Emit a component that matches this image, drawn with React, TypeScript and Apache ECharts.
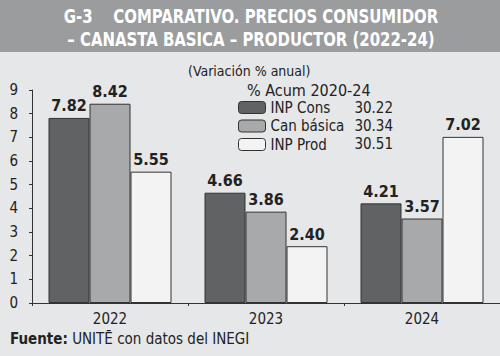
import React, { useEffect, useRef } from "react";
import * as echarts from "echarts";

const categories = ["2022", "2023", "2024"];
const seriesNames = ["INP Cons", "Can básica", "INP Prod"];
const inpCons = [7.82, 4.66, 4.21];
const canBasica = [8.42, 3.86, 3.57];
const inpProd = [5.55, 2.4, 7.02];
const acumulado = ["30.22", "30.34", "30.51"];
const yTicks = [0, 9, 1];

const FONT = "'DejaVu Sans Condensed', 'Liberation Sans Narrow', Roboto, sans-serif";
const DARK = "#222222";

export default function App() {
  const ref = useRef<HTMLDivElement>(null);
  useEffect(() => {
    document.body.style.margin = "0";
    const chart = echarts.init(ref.current!, null, { renderer: "svg" });
    const colors = ["#616264", "#a8a9ab", "#f3f3f3"];
    const data = [inpCons, canBasica, inpProd];
    const legendTop = 99;
    const rowH = 18;
    chart.setOption({
      animation: false,
      backgroundColor: "#e6e7e8",
      textStyle: { fontFamily: FONT },
      graphic: [
        { type: "rect", left: 0, top: 0, shape: { width: 500, height: 52 }, style: { fill: "#9b9c9e" }, z: -1 },
        {
          type: "text", x: 251, y: 6, scaleX: 0.83,
          style: { text: "G-3    COMPARATIVO. PRECIOS CONSUMIDOR", fill: "#ffffff", font: `bold 20px ${FONT}`, align: "center" },
        },
        {
          type: "text", x: 251, y: 29, scaleX: 0.83,
          style: { text: "– CANASTA BASICA – PRODUCTOR (2022-24)", fill: "#ffffff", font: `bold 20px ${FONT}`, align: "center" },
        },
        {
          type: "text", left: 188, top: 64,
          style: { text: "(Variación % anual)", fill: DARK, font: `14px ${FONT}` },
        },
        {
          type: "text", left: 247, top: 82,
          style: { text: "% Acum 2020-24", fill: DARK, font: `16px ${FONT}` },
        },
        ...acumulado.map((v, i) => ({
          type: "text",
          x: 393,
          y: legendTop + rowH * i + rowH / 2,
          style: { text: v, fill: DARK, font: `15px ${FONT}`, align: "right", verticalAlign: "middle" },
        })),
        {
          type: "text", left: 10, top: 331,
          style: {
            text: "{b|Fuente:} UNITĒ con datos del INEGI",
            fill: DARK,
            font: `15px ${FONT}`,
            rich: { b: { fontWeight: "bold", fontSize: 15, fontFamily: FONT, fill: DARK } },
          },
        },
      ],
      legend: {
        orient: "vertical",
        left: 238,
        top: legendTop + 1,
        padding: 0,
        itemWidth: 27,
        itemHeight: 12,
        itemGap: 3.5,
        itemStyle: { borderColor: "#333", borderWidth: 1 },
        data: seriesNames,
        textStyle: { fontSize: 15, color: DARK, fontFamily: FONT, lineHeight: 12 },
      },
      grid: { left: 32, right: 0, top: 90, bottom: 53 },
      xAxis: {
        type: "category",
        data: categories,
        axisLine: { lineStyle: { color: "#333", width: 1 } },
        axisTick: { show: true, length: 3, lineStyle: { color: "#333" } },
        axisLabel: { color: DARK, fontSize: 15, margin: 8, fontFamily: FONT },
      },
      yAxis: {
        type: "value",
        min: yTicks[0],
        max: yTicks[1],
        interval: yTicks[2],
        splitLine: { show: false },
        axisLine: { show: true, lineStyle: { color: "#333", width: 1 } },
        axisTick: { show: true, length: 3, lineStyle: { color: "#333" } },
        axisLabel: { color: DARK, fontSize: 15, margin: 14, fontFamily: FONT },
      },
      series: seriesNames.map((n, i) => ({
        name: n,
        type: "bar",
        data: data[i],
        barWidth: 41,
        barGap: "0%",
        itemStyle: { color: colors[i], borderColor: "#333", borderWidth: 1 },
        label: {
          show: true,
          position: "top",
          distance: 4,
          formatter: (p: any) => p.value.toFixed(2),
          color: DARK,
          fontSize: 16,
          fontWeight: "bold",
          fontFamily: FONT,
        },
      })),
    });
    return () => chart.dispose();
  }, []);
  return <div ref={ref} style={{ width: 500, height: 356 }} />;
}
